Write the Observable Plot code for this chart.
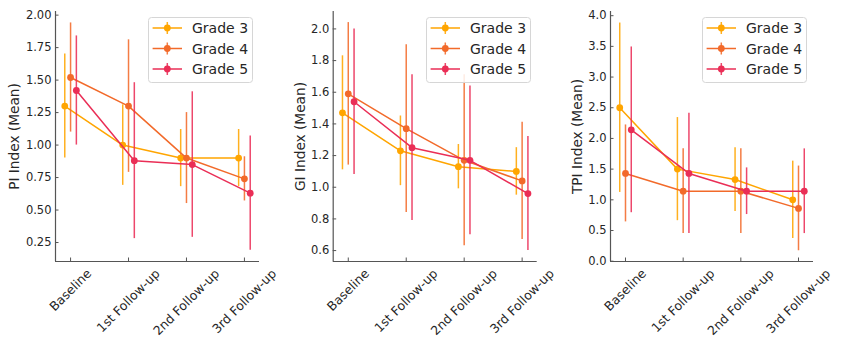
<!DOCTYPE html>
<html><head><meta charset="utf-8">
<script src="https://cdn.jsdelivr.net/npm/d3@7"></script>
<script src="https://cdn.jsdelivr.net/npm/@observablehq/plot@0.6"></script>
<style>
body{margin:0;background:#fff;}
#wrap{position:relative;width:846px;height:352px;font-family:"DejaVu Sans",sans-serif;overflow:hidden;}
.panel{position:absolute;top:0;}
.legend{position:absolute;top:17px;}
</style></head><body><div id="wrap"></div>
<script>
// ---- data ----
const stages = ["Baseline", "1st Follow-up", "2nd Follow-up", "3rd Follow-up"];
const grades = ["Grade 3", "Grade 4", "Grade 5"];
const colors = ["#FFA500", "#F26A2A", "#EA2E56"];
const dodge = [-0.1, 0, 0.1];

const piMean = [[1.30, 1.00, 0.90, 0.90], [1.52, 1.30, 0.90, 0.74], [1.42, 0.88, 0.85, 0.63]];
const piLow  = [[0.90, 0.69, 0.68, 0.68], [1.10, 0.79, 0.55, 0.57], [1.00, 0.28, 0.29, 0.19]];
const piHigh = [[1.70, 1.31, 1.12, 1.12], [1.94, 1.81, 1.25, 0.91], [1.84, 1.48, 1.41, 1.07]];

const giMean = [[1.47, 1.23, 1.13, 1.10], [1.59, 1.37, 1.17, 1.04], [1.54, 1.25, 1.17, 0.96]];
const giLow  = [[1.11, 1.01, 0.99, 0.95], [1.14, 0.84, 0.63, 0.67], [1.08, 0.79, 0.70, 0.60]];
const giHigh = [[1.83, 1.45, 1.27, 1.25], [2.04, 1.90, 1.71, 1.41], [2.00, 1.71, 1.64, 1.32]];

const tpiMean = [[2.50, 1.50, 1.33, 1.00], [1.43, 1.14, 1.14, 0.86], [2.14, 1.43, 1.14, 1.14]];
const tpiLow  = [[1.12, 0.66, 0.81, 0.37], [0.64, 0.45, 0.45, 0.17], [0.79, 0.45, 0.76, 0.45]];
const tpiHigh = [[3.88, 2.34, 1.85, 1.63], [2.22, 1.83, 1.83, 1.55], [3.49, 2.41, 1.52, 1.83]];

const piTicks = [0.25, 0.5, 0.75, 1.0, 1.25, 1.5, 1.75, 2.0];
const giTicks = [0.6, 0.8, 1.0, 1.2, 1.4, 1.6, 1.8, 2.0];
const tpiTicks = [0, 0.5, 1.0, 1.5, 2.0, 2.5, 3.0, 3.5, 4.0];

// ---- layout ----
const panels = [
  {label: "PI Index (Mean)", mean: piMean, low: piLow, high: piHigh, yDomain: [0.104, 2.028], ticks: piTicks, fmt: d3.format(".2f"), left: 0, ml: 55, mr: 23, labelDx: -40.5},
  {label: "GI Index (Mean)", mean: giMean, low: giLow, high: giHigh, yDomain: [0.531, 2.11], ticks: giTicks, fmt: d3.format(".1f"), left: 282, ml: 50.7, mr: 27.3, labelDx: -32.7},
  {label: "TPI Index (Mean)", mean: tpiMean, low: tpiLow, high: tpiHigh, yDomain: [-0.005, 4.068], ticks: tpiTicks, fmt: d3.format(".1f"), left: 564, ml: 46, mr: 33, labelDx: -33.3}
];
const xDomain = [-0.26, 3.26];
const W = 282, H = 352, MT = 11, MB = 91;
const xFont = 12.5;
const ink = "#262626";

const canvas = document.createElement("canvas");
const ctx = canvas.getContext("2d");
ctx.font = `${xFont}px "DejaVu Sans"`;
const textW = s => ctx.measureText(s).width;

const wrap = document.getElementById("wrap");

panels.forEach(p => {
  const marks = [];
  grades.forEach((g, gi) => {
    const rows = stages.map((s, si) => ({
      grade: g, x: si + dodge[gi], mean: p.mean[gi][si], low: p.low[gi][si], high: p.high[gi][si]
    }));
    marks.push(Plot.ruleX(rows, {x: "x", y1: "low", y2: "high", stroke: colors[gi], strokeWidth: 1.5, strokeOpacity: 0.88}));
    marks.push(Plot.line(rows, {x: "x", y: "mean", stroke: colors[gi], strokeWidth: 1.5}));
    marks.push(Plot.dot(rows, {x: "x", y: "mean", fill: colors[gi], r: 3.4}));
  });
  // spines
  marks.push(Plot.ruleX([xDomain[0]], {stroke: "#555", strokeWidth: 1.2}));
  marks.push(Plot.ruleY([p.yDomain[0]], {stroke: "#555", strokeWidth: 1.2}));
  // axes (inward ticks)
  marks.push(Plot.axisY({ticks: p.ticks, tickFormat: p.fmt, tickSize: -3.5, tickPadding: 7.5, label: null, fontSize: 11.5, stroke: "#555", fill: ink}));
  marks.push(Plot.axisX({ticks: [0, 1, 2, 3], tickFormat: () => "", tickSize: -3.5, label: null, stroke: "#555"}));
  // rotated x tick labels (centered like matplotlib)
  stages.forEach((s, si) => {
    marks.push(Plot.text([si], {
      x: d => d, text: d => stages[d], frameAnchor: "bottom",
      dy: 10, dx: textW(s) / (2 * Math.SQRT2), rotate: -45,
      textAnchor: "end", lineAnchor: "middle", fontSize: xFont, fill: ink
    }));
  });
  // y label
  marks.push(Plot.text([p.label], {frameAnchor: "left", dx: p.labelDx, rotate: -90, textAnchor: "middle", fontSize: 13.7, fill: ink}));

  const chart = Plot.plot({
    width: W, height: H, marginTop: MT, marginBottom: MB, marginLeft: p.ml, marginRight: p.mr,
    x: {type: "linear", domain: xDomain},
    y: {type: "linear", domain: p.yDomain},
    style: {fontFamily: "DejaVu Sans", fontSize: "11.5px", color: ink, background: "transparent", overflow: "visible"},
    marks
  });
  chart.classList.add("panel");
  chart.style.left = p.left + "px";
  wrap.appendChild(chart);

  // legend
  const lw = 104, lh = 65;
  const lx = p.left + W - p.mr - 7 - lw;
  const svg = d3.select(wrap).append("svg").attr("class", "legend")
    .attr("width", lw + 2).attr("height", lh + 2)
    .style("left", lx + "px");
  svg.append("rect").attr("x", 0.5).attr("y", 0.5).attr("width", lw).attr("height", lh)
    .attr("rx", 3).attr("fill", "rgba(255,255,255,0.85)").attr("stroke", "#d6d6d6");
  grades.forEach((g, gi) => {
    const cy = 11 + gi * 20.5;
    const grp = svg.append("g");
    grp.append("line").attr("x1", 4.6).attr("x2", 34).attr("y1", cy).attr("y2", cy)
      .attr("stroke", colors[gi]).attr("stroke-width", 1.5);
    grp.append("line").attr("x1", 19.3).attr("x2", 19.3).attr("y1", cy - 6).attr("y2", cy + 6)
      .attr("stroke", colors[gi]).attr("stroke-width", 1.5).attr("stroke-opacity", 0.88);
    grp.append("circle").attr("cx", 19.3).attr("cy", cy).attr("r", 3.4).attr("fill", colors[gi]);
    grp.append("text").attr("x", 44).attr("y", cy).attr("dy", "0.36em")
      .attr("font-size", 14).attr("fill", ink).attr("font-family", "DejaVu Sans").text(g);
  });
});
</script>
</body></html>
